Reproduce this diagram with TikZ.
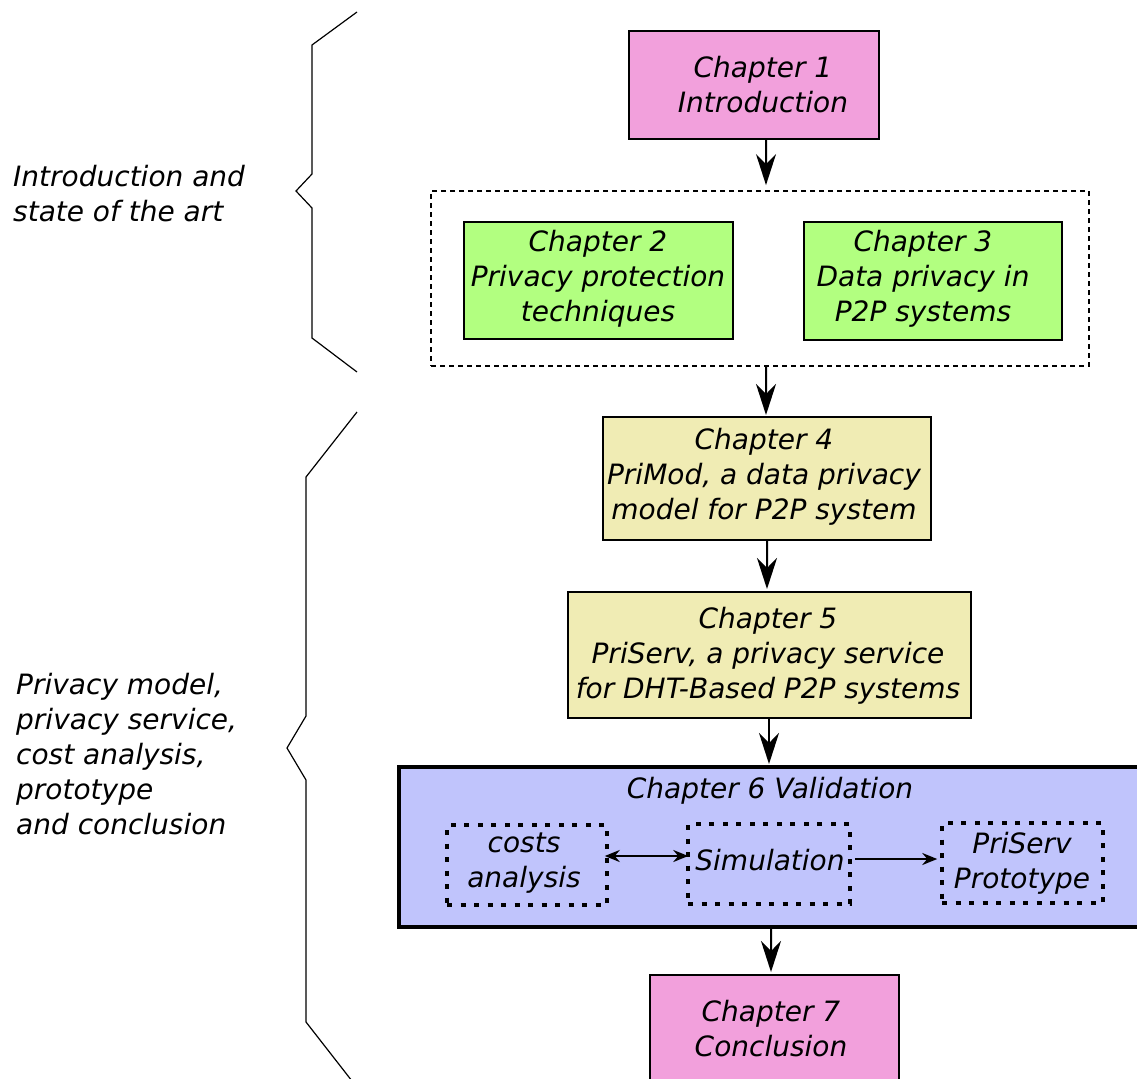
\documentclass[tikz,border=0pt]{standalone}
\usepackage{fontspec}
\setmainfont{DejaVu Sans}
\usetikzlibrary{arrows.meta}

\definecolor{chpink}{RGB}{242,160,220}
\definecolor{chgreen}{RGB}{178,255,128}
\definecolor{chyellow}{RGB}{240,236,180}
\definecolor{chblue}{RGB}{192,196,252}

\begin{document}
\begin{tikzpicture}[x=1bp,y=-1bp,
  every node/.style={font=\fontsize{28bp}{35bp}\selectfont\itshape},
  chapbox/.style={draw=black, line width=2bp, inner sep=0pt, minimum width=#1},
  txt/.style={align=center, inner sep=0pt},
  sidetxt/.style={align=left, anchor=west, inner sep=0pt},
  grpbox/.style={draw=black, line width=1.8bp, dash pattern=on 5bp off 4bp, inner sep=0pt},
  subbox/.style={draw=black, line width=3.5bp, dash pattern=on 5bp off 8.5bp, inner sep=0pt,
                 minimum width=160bp, minimum height=80bp},
  bigarrow/.style={draw=black, line width=2bp, -{Stealth[length=31bp,width=20bp,inset=10bp]}},
  smalltip/.tip={Stealth[length=15bp,width=12bp,inset=5bp]},
  smallarrow/.style={draw=black, line width=2.5bp, -smalltip},
  brace/.style={draw=black, line width=1.2bp, line join=miter}]

\useasboundingbox (0,0) rectangle (1137,1079);

% side braces
\draw[brace] (357,12) -- (312,45) -- (312,174) -- (296,191) -- (312,208) -- (312,338) -- (357,372);
\draw[brace] (357,412) -- (306,477) -- (306,716) -- (287,748) -- (306,780) -- (306,1022) -- (352,1081);

% side labels
\node[sidetxt] (lab1) at (13,194) {Introduction and\\state of the art};
\node[sidetxt] (lab2) at (16,754.5) {Privacy model,\\privacy service,\\cost analysis,\\prototype\\and conclusion};

% chapter boxes
\node[chapbox=250bp, minimum height=108bp, fill=chpink] (b1) at (754,85) {};
\node[txt] (t1) at (763,84.5) {Chapter 1\\Introduction};

\node[grpbox, minimum width=658bp, minimum height=175bp] (grp) at (760,278.5) {};

\node[chapbox=269bp, minimum height=117bp, fill=chgreen] (b2) at (598.5,280.5) {};
\node[txt] (t2) at (598,279) {Chapter 2\\Privacy protection\\techniques};

\node[chapbox=258bp, minimum height=118bp, fill=chgreen] (b3) at (933,281) {};
\node[txt] (t3) at (923,279) {Chapter 3\\Data privacy in\\P2P systems};

\node[chapbox=328bp, minimum height=123bp, fill=chyellow] (b4) at (767,478.5) {};
\node[txt] (t4) at (764,477) {Chapter 4\\PriMod, a data privacy\\model for P2P system};

\node[chapbox=403bp, minimum height=126bp, fill=chyellow] (b5) at (769.5,655) {};
\node[txt] (t5) at (768,656) {Chapter 5\\PriServ, a privacy service\\for DHT-Based P2P systems};

\node[chapbox=742bp, minimum height=160bp, fill=chblue, line width=4bp] (b6) at (770,847) {};
\node[txt] (t6) at (770,791) {Chapter 6 Validation};

\node[subbox] (bc) at (527,865) {};
\node[txt] (tc) at (524,863.5) {costs\\analysis};
\node[subbox, minimum width=162bp] (bs) at (769,864) {};
\node[txt] (ts) at (770,860) {Simulation};
\node[subbox, minimum width=161bp] (bp) at (1022.5,863) {};
\node[txt] (tp) at (1022,863.5) {PriServ\\Prototype};

\node[chapbox=249bp, minimum height=110bp, fill=chpink] (b7) at (774.5,1030) {};
\node[txt] (t7) at (771,1028.5) {Chapter 7\\Conclusion};

% flow between chapters
\draw[bigarrow] ([xshift=12bp]b1.south) -- ([xshift=6bp,yshift=5bp]grp.north);
\draw[bigarrow] ([xshift=6bp]grp.south) -- ([xshift=-1bp,yshift=1bp]b4.north);
\draw[bigarrow] (b4.south) -- ([xshift=-2.5bp,yshift=2bp]b5.north);
\draw[bigarrow] ([xshift=-0.5bp]b5.south) -- ([xshift=-1bp,yshift=1bp]b6.north);
\draw[bigarrow] ([xshift=1bp]b6.south) -- ([xshift=-3.5bp,yshift=2bp]b7.north);

% links inside the validation chapter
\draw[smallarrow, smalltip-smalltip]
  ([xshift=-4bp,yshift=9bp]bc.east) -- ([xshift=2bp,yshift=8bp]bs.west);
\draw[smallarrow] ([xshift=3bp,yshift=5bp]bs.east) -- ([xshift=-3bp,yshift=4bp]bp.west);

\end{tikzpicture}
\end{document}
